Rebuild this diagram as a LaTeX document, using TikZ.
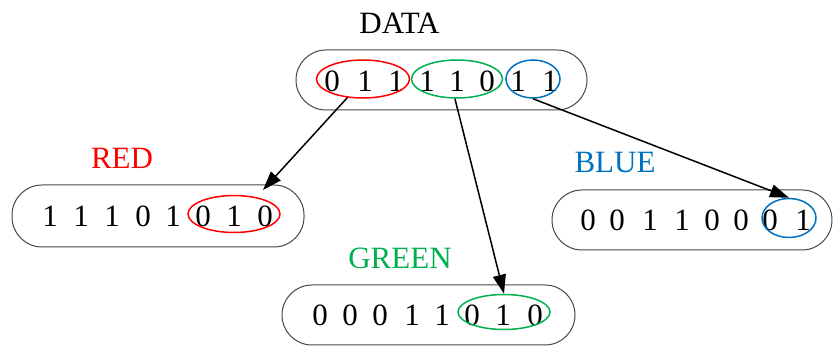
\documentclass[tikz,border=0pt]{standalone}
\usepackage{fontspec}
\setmainfont{Liberation Serif}
\usetikzlibrary{arrows.meta,shapes.geometric}
\definecolor{bitred}{RGB}{255,0,0}
\definecolor{bitgreen}{RGB}{0,176,80}
\definecolor{bitblue}{RGB}{0,112,192}
\definecolor{rim}{RGB}{70,70,70}
\tikzset{
  capsule/.style={draw=rim, line width=1pt, rectangle, rounded corners=30pt,
    minimum height=60pt, inner sep=0pt},
  group/.style={ellipse, draw=#1, line width=1.5pt, inner sep=0pt},
  bit/.style={inner sep=0pt, font=\fontsize{31}{32}\selectfont},
  title/.style={inner sep=0pt, font=\fontsize{31}{32}\selectfont, text=#1},
  arr/.style={line width=1.5pt, -{Triangle[length=19pt,width=13pt]}}
}
\begin{document}
\begin{tikzpicture}[x=1pt,y=-1pt]
\useasboundingbox (0,0) rectangle (833,347);

% source word
\node[title=black] (datalbl) at (399.5,23) {DATA};
\node[capsule, minimum width=291pt] (data) at (441.5,80) {};
\foreach \x/\d [count=\i] in {332/0,365/1,396/1,427/1,457/1,487/0,518/1,550/1}
  \node[bit] (data-\i) at (\x,81) {\d};
\node[group=bitred,   minimum width=93pt, minimum height=38pt] (dr) at (363,79) {};
\node[group=bitgreen, minimum width=91pt, minimum height=38pt] (dg) at (457,79) {};
\node[group=bitblue,  minimum width=54pt, minimum height=38pt] (db) at (533,79) {};

% red channel
\node[title=bitred] (redlbl) at (122,158) {RED};
\node[capsule, minimum width=292pt, minimum height=62pt] (red) at (158,216) {};
\foreach \x/\d [count=\i] in {50/1,81/1,112/1,143/0,173/1,203/0,234/1,265/0}
  \node[bit] (red-\i) at (\x,216) {\d};
\node[group=bitred, minimum width=92pt, minimum height=37pt] (rr) at (234,214) {};

% blue channel
\node[title=bitblue] (bluelbl) at (615,163) {BLUE};
\node[capsule, minimum width=280pt] (blue) at (692,220) {};
\foreach \x/\d [count=\i] in {588/0,617/0,650/1,682/1,712/0,741/0,770/0,803/1}
  \node[bit] (blue-\i) at (\x,220) {\d};
\node[group=bitblue, minimum width=54pt, minimum height=39pt] (bb) at (789,218) {};

% green channel
\node[title=bitgreen] (greenlbl) at (400,258) {GREEN};
\node[capsule, minimum width=293pt] (green) at (428.5,315) {};
\foreach \x/\d [count=\i] in {320/0,350/0,380/0,412/1,442/1,472/0,503/1,535/0}
  \node[bit] (green-\i) at (\x,315) {\d};
\node[group=bitgreen, minimum width=92pt, minimum height=35pt] (gg) at (504,312) {};

% routing arrows
\coordinate (redtip) at (263,190);
\draw[arr] (dr.230) -- (redtip);
\draw[arr] (dg.264) -- (gg.north);
\draw[arr] (db.270) -- (bb.north);
\end{tikzpicture}
\end{document}
